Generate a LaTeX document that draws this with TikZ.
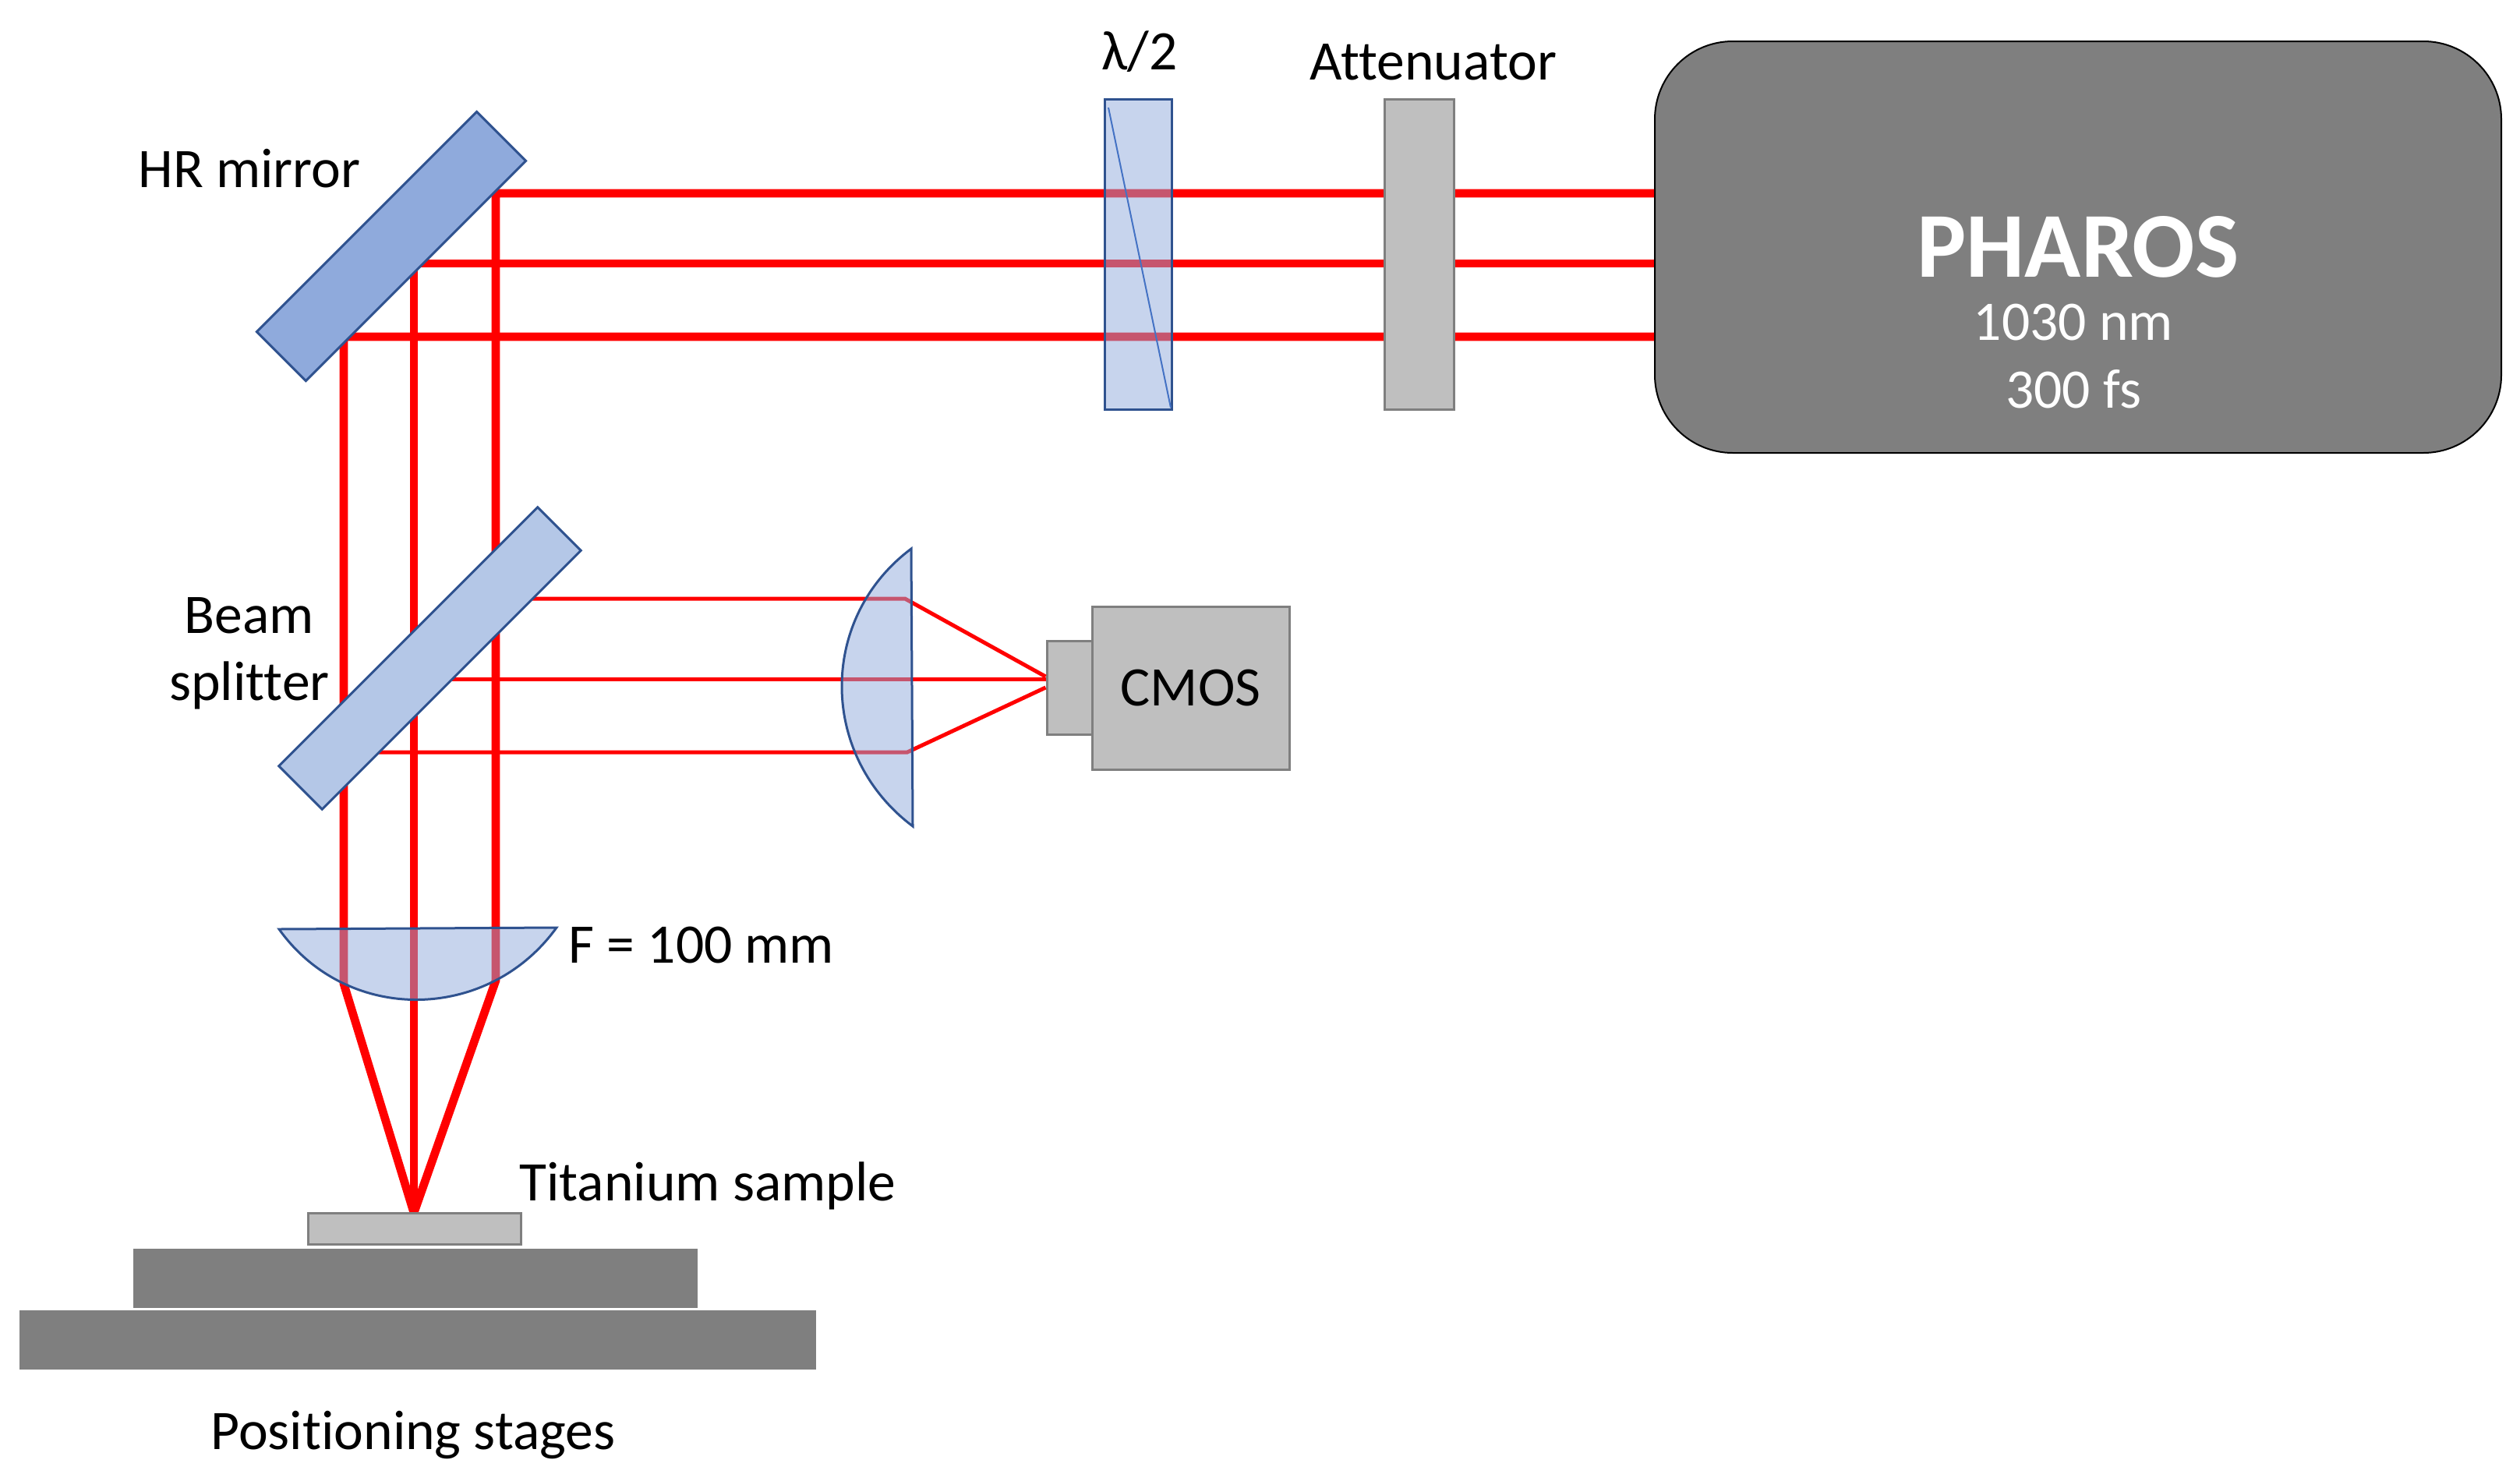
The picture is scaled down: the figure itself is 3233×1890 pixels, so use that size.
\documentclass[tikz,border=0pt]{standalone}
\usepackage{fontspec}
\setmainfont{Carlito}[Ligatures=NoCommon]
\definecolor{beamred}{HTML}{FF0000}
\definecolor{optblue}{HTML}{8FAADC}
\definecolor{splitblue}{HTML}{B4C7E7}
\definecolor{edgeblue}{HTML}{2F528F}
\definecolor{slantblue}{HTML}{4472C4}
\definecolor{boxgrey}{HTML}{BFBFBF}
\definecolor{darkgrey}{HTML}{7F7F7F}
\tikzset{
	beam/.style={draw=beamred, line width=5.35pt, line join=miter},
	thinbeam/.style={draw=beamred, line width=2.5pt, line join=miter},
	lens/.style={fill=optblue, fill opacity=.5, draw=edgeblue, draw opacity=1, line width=1.5pt, line join=miter},
	plate/.style={draw=edgeblue, line width=1.5pt, inner sep=0pt, rotate=45},
	greybox/.style={fill=boxgrey, draw=darkgrey, line width=1.5pt, inner sep=0pt},
	stage/.style={fill=darkgrey, inner sep=0pt},
	label/.style={inner sep=0pt, font=\fontsize{35.8}{42.5}\selectfont, align=center}
}
\begin{document}
\begin{tikzpicture}[x=0.5pt,y=-0.5pt]
\useasboundingbox (0,0) rectangle (3233,1890);

% boxes
\node [stage, minimum width=362pt, minimum height=38pt] (stagetop) at (533,1639.5) {};
\node [stage, minimum width=511pt, minimum height=38pt] (stagebase) at (536,1719) {};
\node [fill=darkgrey, draw=black, line width=1pt, rounded corners=50pt, inner sep=0pt,
	minimum width=543pt, minimum height=264pt] (pharos) at (2666,317) {};

% beam corners
\coordinate (c1) at (636,248);
\coordinate (c2) at (531,338);
\coordinate (c3) at (441,432);
\coordinate (e1) at (636,1258);
\coordinate (e3) at (441,1262);
\coordinate (focus) at (531,1556);

% main beam
\draw [beam] (pharos.west |- c1) -- (c1) -- (e1) -- (focus);
\draw [beam] (pharos.west |- c2) -- (c2) -- (focus);
\draw [beam] (pharos.west |- c3) -- (c3) -- (e3) -- (focus);

\node [greybox, minimum width=44.5pt, minimum height=199pt] (atten) at (1821,326) {};
\node [greybox, minimum width=136.5pt, minimum height=20pt] (sample) at (531.5,1576.5) {};
\node [plate, fill=optblue, minimum width=199.5pt, minimum height=44.5pt] (hr) at (502,316) {};

% camera arm
\node [greybox, minimum width=29pt, minimum height=60pt] (det) at (1372,882) {};
\node [greybox, minimum width=126.5pt, minimum height=104.5pt] (cmos) at (1527.5,882.5) {};
\coordinate (t1) at (670,768);
\coordinate (t2) at (570,871);
\coordinate (t3) at (475,965);
\coordinate (k1) at (1161,768);
\coordinate (k3) at (1164,965);
\draw [thinbeam] (t1) -- (k1) -- (det.west |- 0,868);
\draw [thinbeam] (t2) -- (t2 -| det.west);
\draw [thinbeam] (t3) -- (k3) -- (det.west |- 0,882);
\node [plate, fill=splitblue, minimum width=234.75pt, minimum height=39.25pt] (bs) at (551.5,844.5) {};

% lenses
\path [lens] (1169,704) .. controls (1050,793) and (1050,969) .. (1171,1060) -- cycle;
\path [lens] (358,1192) .. controls (445,1314) and (626,1312) .. (714,1190) -- cycle;

% half wave plate
\node [fill=optblue, fill opacity=.5, draw=edgeblue, draw opacity=1, line width=1.5pt, inner sep=0pt,
	minimum width=43pt, minimum height=199pt] (wave) at (1460,326) {};
\draw [slantblue, line width=1pt] (1422,138) -- (1502,523);

% labels
\node [label] (lhalf) at (1462,66) {λ/2};
\node [label] (latt) at (1839,80) {Attenuator};
\node [label] (lhr) at (320,216) {HR mirror};
\node [label, font=\fontsize{35.8}{43}\selectfont] (lbs) at (320,838) {Beam\\splitter};
\node [label] (lf) at (900,1212) {F = 100 mm};
\node [label] (lti) at (908,1521) {Titanium sample};
\node [label] (lpos) at (530,1841) {Positioning stages};
\node [label] at (cmos) {CMOS};
\node [label, text=white, font=\fontsize{59.5}{70}\selectfont\bfseries] (lph) at (2666,317) {PHAROS};
\node [label, text=white] (lnm) at (2660,414) {1030 nm};
\node [label, text=white] (lfs) at (2660,499) {300 fs};
\end{tikzpicture}
\end{document}
